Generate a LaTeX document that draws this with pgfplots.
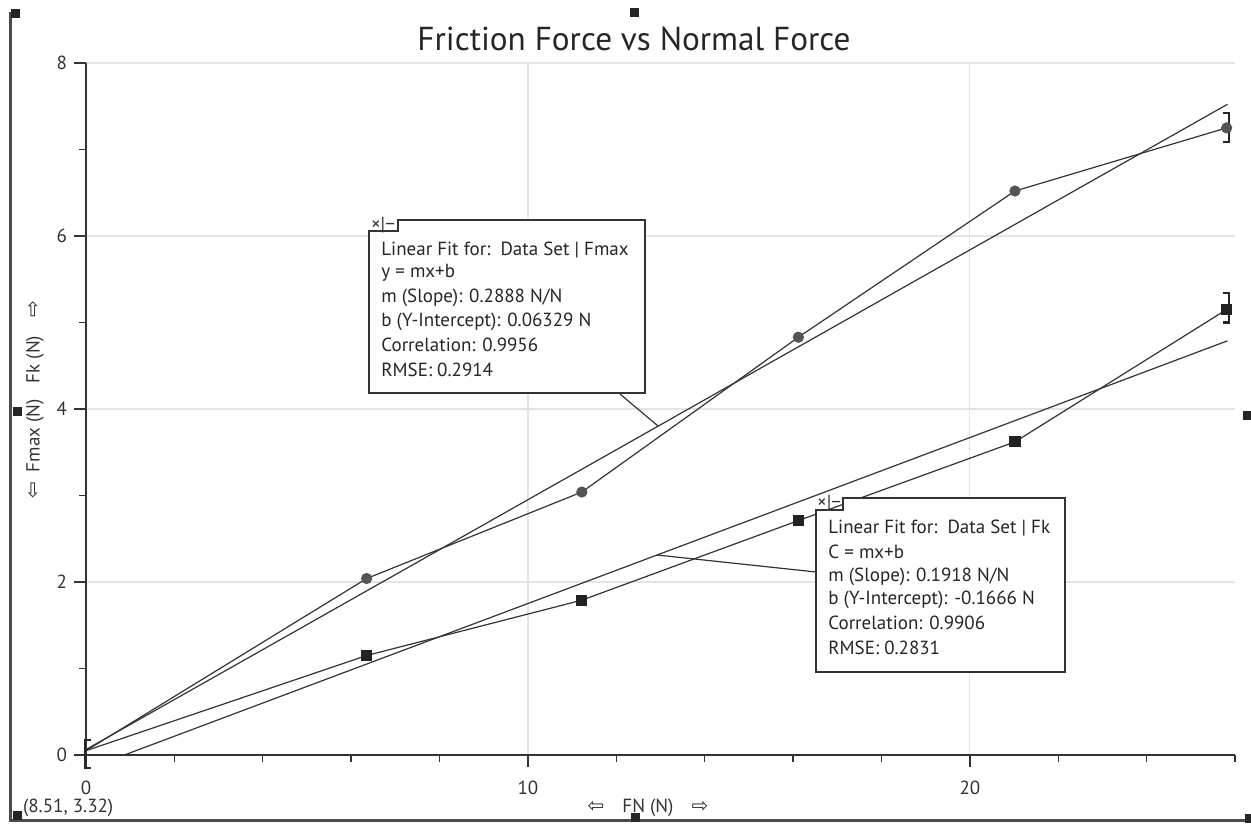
\documentclass[border=0pt]{standalone}
\usepackage{pgfplots}
\pgfplotsset{compat=1.18}
\usepackage{fontspec}
\setmainfont{PT Sans}
\newfontfamily\arrowfont{DejaVu Sans}
\definecolor{ink}{HTML}{333333}
\definecolor{dot}{HTML}{555555}
\definecolor{sq}{HTML}{222222}
\definecolor{gridc}{HTML}{E4E4E4}
\begin{document}
\begin{tikzpicture}
\path[use as bounding box] (0,0) rectangle (625.5pt,412.5pt);
\begin{axis}[
  at={(43pt,35pt)}, anchor=south west,
  scale only axis, width=574.5pt, height=346pt,
  xmin=0, xmax=26, ymin=0, ymax=8,
  axis lines=left, axis line style={-, draw=ink, line width=0.7pt},
  xtick={0,10,20}, minor xtick={2,4,6,8,12,14,16,18,22,24,26},
  ytick={0,2,4,6,8}, minor ytick={1,3,5,7},
  tick align=outside, major tick length=6pt, minor tick length=3.5pt,
  tick style={ink, line width=0.7pt},
  xmajorgrids, ymajorgrids, grid style={gridc, line width=0.6pt},
  ticklabel style={font=\fontsize{9.5}{10}\selectfont, text=ink},
  xticklabel style={yshift=-3.5pt},
  /pgf/number format/assume math mode=true,
  clip=false,
]
% Fmax data (circles)
\addplot[line width=0.6pt, draw=ink, mark=*, mark indices={2,3,4,5,6}, mark size=2.5pt,
  mark options={fill=dot, draw=dot}]
  coordinates {(0,0.05) (6.35,2.04) (11.22,3.04) (16.12,4.83) (21.02,6.52) (25.81,7.25)};
% Fk data (squares)
\addplot[line width=0.6pt, draw=ink, mark=square*, mark indices={2,3,4,5,6}, mark size=2.5pt,
  mark options={fill=sq, draw=sq}]
  coordinates {(0,0.05) (6.35,1.15) (11.22,1.79) (16.12,2.71) (21.02,3.62) (25.81,5.15)};
% linear fits
\addplot[line width=0.6pt, draw=ink] coordinates {(0,0.0633) (25.83,7.523)};
\addplot[line width=0.6pt, draw=ink] coordinates {(0.869,0) (25.83,4.788)};
% fit range brackets
\draw[line width=1.1pt, black!85] (axis cs:0.12,0.17) -- (axis cs:-0.03,0.17) -- (axis cs:-0.03,-0.15) -- (axis cs:0.12,-0.15);
\draw[line width=1.1pt, black!85] (axis cs:25.72,7.42) -- (axis cs:25.86,7.42) -- (axis cs:25.86,7.09) -- (axis cs:25.72,7.09);
\draw[line width=1.1pt, black!85] (axis cs:25.72,5.34) -- (axis cs:25.86,5.34) -- (axis cs:25.86,5.00) -- (axis cs:25.72,5.00);
\end{axis}
\begin{scope}[x=0.5pt, y=-0.5pt, shift={(0pt,412.5pt)}]
  % frame and handles
  \draw[black!70, line width=1.5pt] (10,12) -- (10,820) -- (1251,820);
  \foreach \p in {(15,14),(634,13),(17,412),(1247,416),(17,815),(635,817),(1249,818)}
    \fill[black!85] \p ++(-4.5,-4.5) rectangle ++(9,9);
  % title
  \node[anchor=base, font=\fontsize{16.6}{18}\selectfont, text=black!85] at (634,51) {Friction Force vs Normal Force};
  % axis labels
  \node[anchor=center, font=\fontsize{9.5}{10}\selectfont, text=ink] at (648,808)
    {{\arrowfont\fontsize{10}{10}\selectfont ⇦}\hspace{9pt}FN (N)\hspace{9pt}{\arrowfont\fontsize{10}{10}\selectfont ⇨}};
  \node[anchor=center, rotate=90, font=\fontsize{9.5}{10}\selectfont, text=ink] at (35,400)
    {{\arrowfont\fontsize{10}{10}\selectfont ⇦}\hspace{5pt}Fmax (N)\hspace{8pt}Fk (N)\hspace{9pt}{\arrowfont\fontsize{10}{10}\selectfont ⇨}};
  \node[anchor=west, font=\fontsize{9.5}{10}\selectfont, text=ink] at (16,808) {(8.51, 3.32)};
  % callouts
  \draw[ink, line width=0.6pt] (620,394) -- (658,426);
  \draw[ink, line width=0.6pt] (657,555) -- (816,572);
  % Fmax box
  \draw[ink, line width=0.6pt, fill=white] (369,393) -- (369,231) -- (398,231) -- (398,220) -- (645,220) -- (645,393) -- cycle;
  \node[font=\fontsize{9.5}{10}\selectfont, text=ink, inner sep=0pt] at (383,225) {×|−};
  \begin{scope}[every node/.style={anchor=west, font=\fontsize{9.5}{10}\selectfont, text=black!85, inner sep=0pt}]
    \node at (381,250) {Linear Fit for:\ \ Data Set | Fmax};
    \node at (381,273) {y = mx+b};
    \node at (381,298) {m (Slope): 0.2888 N/N};
    \node at (381,322) {b (Y-Intercept): 0.06329 N};
    \node at (381,345) {Correlation: 0.9956};
    \node at (381,370) {RMSE: 0.2914};
  \end{scope}
  % Fk box
  \draw[ink, line width=0.6pt, fill=white] (816,672) -- (816,510) -- (843,510) -- (843,498) -- (1065,498) -- (1065,672) -- cycle;
  \node[font=\fontsize{9.5}{10}\selectfont, text=ink, inner sep=0pt] at (829,503) {×|−};
  \begin{scope}[every node/.style={anchor=west, font=\fontsize{9.5}{10}\selectfont, text=black!85, inner sep=0pt}]
    \node at (828,528) {Linear Fit for:\ \ Data Set | Fk};
    \node at (828,552) {C = mx+b};
    \node at (828,577) {m (Slope): 0.1918 N/N};
    \node at (828,600) {b (Y-Intercept): -0.1666 N};
    \node at (828,623) {Correlation: 0.9906};
    \node at (828,648) {RMSE: 0.2831};
  \end{scope}
\end{scope}
\end{tikzpicture}
\end{document}
